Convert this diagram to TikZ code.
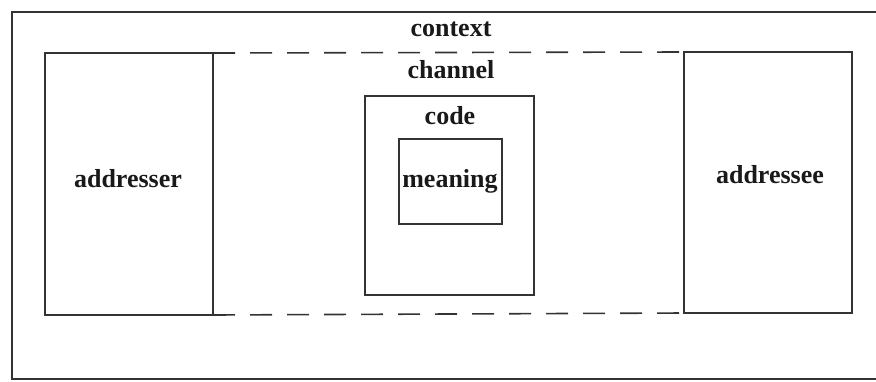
\documentclass[tikz,border=0pt]{standalone}
\usepackage{fontspec}
\setmainfont{Liberation Serif}
\begin{document}
\begin{tikzpicture}[x=1pt,y=-1pt,
  box/.style={draw=black!80, line width=1.6pt, rectangle, inner sep=0pt, outer sep=0pt},
  lbl/.style={anchor=base, inner sep=0pt, font=\fontsize{26}{28}\selectfont\bfseries, text=black!90},
  chan/.style={draw=black!80, line width=1.6pt, dash pattern=on 22pt off 15pt}]
\useasboundingbox (0,0) rectangle (876,381);
\clip (0,0) rectangle (876,381);
\node[box, minimum width=883pt, minimum height=367pt] (context) at (453.5,195.5) {};
\node[box, minimum width=168pt, minimum height=262pt] (addresser) at (129,184) {};
\node[box, minimum width=168pt, minimum height=261pt] (addressee) at (768,182.5) {};
\node[box, minimum width=169pt, minimum height=199pt] (code) at (449.5,195.5) {};
\node[box, minimum width=103pt, minimum height=85pt] (meaning) at (450.5,181.5) {};
\draw[chan] (addresser.north east) -- (addressee.north west);
\draw[chan] (addresser.south east) -- (addressee.south west);
\node[lbl] (tcontext) at (451,36) {context};
\node[lbl] (tchannel) at (451,78) {channel};
\node[lbl] (tcode) at (450,124) {code};
\node[lbl] (tmeaning) at (450,187) {meaning};
\node[lbl] (taddresser) at (128,187) {addresser};
\node[lbl] (taddressee) at (770,183) {addressee};
\end{tikzpicture}
\end{document}
